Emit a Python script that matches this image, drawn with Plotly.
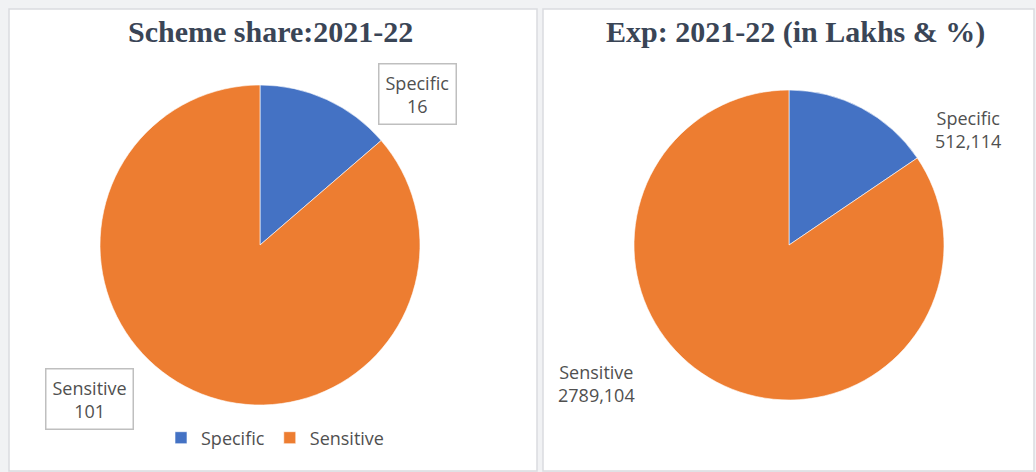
import plotly.graph_objects as go

W, H = 1036, 472

# Data
categories = ["Specific", "Sensitive"]
scheme_counts = [16, 101]
expenditure_lakhs = [512114, 2789104]
colors = ["#4472C4", "#ED7D31"]

title_left = "Scheme share:2021-22"
title_right = "Exp: 2021-22 (in Lakhs & %)"


def fx(px):
    return px / W


def fy(py):
    return 1 - py / H


def pie_domain(cx, cy, r):
    return dict(x=[fx(cx - r), fx(cx + r)], y=[fy(cy + r), fy(cy - r)])


def exp_label(v):
    return f"{v // 1000}," + f"{v % 1000:03d}"


fig = go.Figure()

fig.add_trace(go.Pie(
    labels=categories, values=scheme_counts, sort=False, direction="clockwise",
    rotation=0, textinfo="none", hoverinfo="label+value",
    marker=dict(colors=colors, line=dict(color="white", width=0.6)),
    domain=pie_domain(260, 245, 160), legend="legend",
))
fig.add_trace(go.Pie(
    labels=categories, values=expenditure_lakhs, sort=False, direction="clockwise",
    rotation=0, textinfo="none", hoverinfo="label+value",
    marker=dict(colors=colors, line=dict(color="white", width=0.6)),
    domain=pie_domain(789, 245, 155), legend="legend2",
))

# Panel frames
shapes = [
    dict(type="rect", xref="paper", yref="paper", x0=0, x1=1, y0=0, y1=1,
         fillcolor="#F1F2F4", line=dict(width=0), layer="below"),
    dict(type="rect", xref="paper", yref="paper", x0=fx(9), x1=fx(537), y0=fy(471), y1=fy(9),
         fillcolor="white", line=dict(color="#DADCE0", width=1.5), layer="below"),
    dict(type="rect", xref="paper", yref="paper", x0=fx(543), x1=fx(1034), y0=fy(471), y1=fy(9),
         fillcolor="white", line=dict(color="#DADCE0", width=1.5), layer="below"),
]

title_font = dict(family="Liberation Serif, DejaVu Serif, serif", size=30, color="#3A4556")
label_font = dict(family="Open Sans, Noto Sans, sans-serif", size=18, color="#505050")

annotations = [
    dict(text=f"<b>{title_left}</b>", x=fx(270), y=fy(31), xref="paper", yref="paper",
         showarrow=False, font=title_font, xanchor="center", yanchor="middle"),
    dict(text=f"<b>{title_right}</b>", x=fx(795), y=fy(32), xref="paper", yref="paper",
         showarrow=False, font=title_font, xanchor="center", yanchor="middle"),
    dict(text=f"{categories[0]}<br>{scheme_counts[0]}", x=fx(417), y=fy(94),
         xref="paper", yref="paper", showarrow=False, font=label_font,
         bordercolor="#BFBFBF", borderwidth=1.5, borderpad=6, bgcolor="white",
         xanchor="center", yanchor="middle"),
    dict(text=f"{categories[1]}<br>{scheme_counts[1]}", x=fx(89), y=fy(399),
         xref="paper", yref="paper", showarrow=False, font=label_font,
         bordercolor="#BFBFBF", borderwidth=1.5, borderpad=6, bgcolor="white",
         xanchor="center", yanchor="middle"),
    dict(text=f"{categories[0]}<br>{exp_label(expenditure_lakhs[0])}", x=fx(968), y=fy(130),
         xref="paper", yref="paper", showarrow=False, font=label_font,
         xanchor="center", yanchor="middle"),
    dict(text=f"{categories[1]}<br>{exp_label(expenditure_lakhs[1])}", x=fx(596), y=fy(383),
         xref="paper", yref="paper", showarrow=False, font=label_font,
         xanchor="center", yanchor="middle"),
]

legend_style = dict(orientation="h", font=dict(family="Open Sans, Noto Sans, sans-serif",
                                                size=18, color="#505050"),
                    bgcolor="rgba(0,0,0,0)", xanchor="center", yanchor="middle",
                    itemwidth=30, tracegroupgap=0)

fig.update_layout(
    width=W, height=H,
    margin=dict(l=0, r=0, t=0, b=0),
    paper_bgcolor="white",
    shapes=shapes,
    annotations=annotations,
    legend=dict(x=fx(275), y=fy(438), **legend_style),
    legend2=dict(x=fx(797), y=fy(438), **legend_style),
)

fig.write_html("out.html")
